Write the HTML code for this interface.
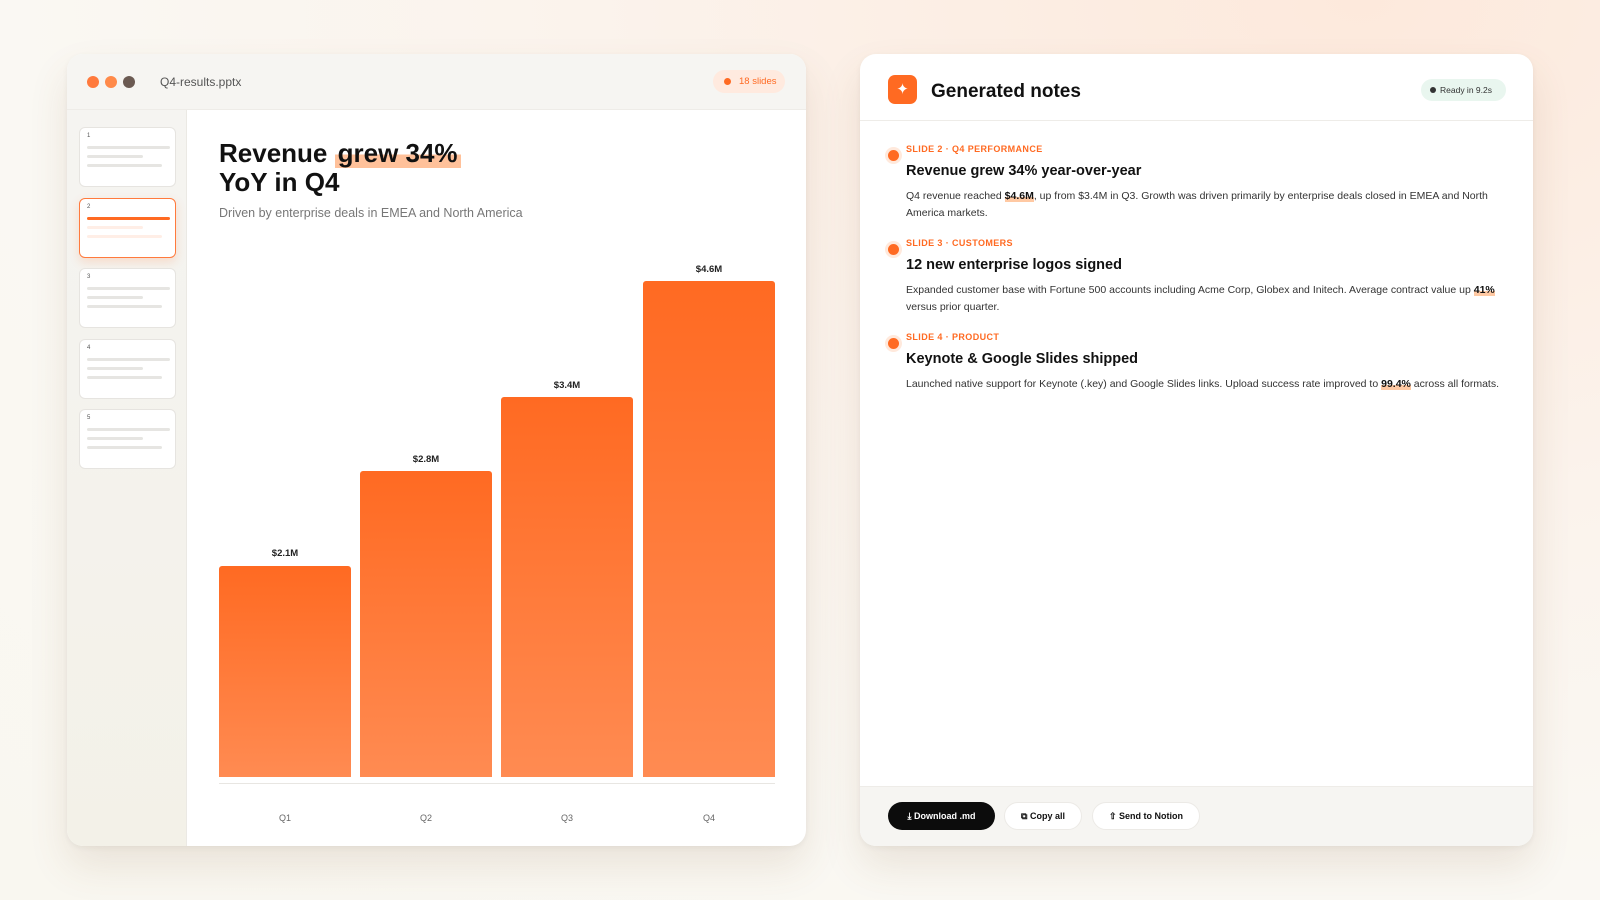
<!DOCTYPE html>
<html><head><meta charset="utf-8"><style>
*{margin:0;padding:0;box-sizing:border-box}
body{width:1600px;height:900px;overflow:hidden;font-family:"Liberation Sans",sans-serif;background:radial-gradient(ellipse at 85% 0%,#fde9dc 0%,#fbf3ec 40%,#faf8f3 70%,#f9f7f0 100%);position:relative;color:#111}
.win{position:absolute;left:67px;top:54px;width:739px;height:792px;background:#fff;border-radius:16px;box-shadow:0 20px 40px rgba(120,80,40,.12),0 2px 6px rgba(0,0,0,.05);overflow:hidden}
.hdr{position:absolute;left:0;top:0;right:0;height:56px;background:#f6f5f2;border-bottom:1px solid #eeece8}
.dot{position:absolute;top:22px;width:12px;height:12px;border-radius:50%}
.side{position:absolute;left:0;top:56px;width:120px;bottom:0;background:linear-gradient(#f5f4f1,#f3f1e8);border-right:1px solid #ebe9e4}
.th{position:absolute;left:12px;width:97px;height:60px;background:#fff;border:1px solid #e6e4e0;border-radius:6px}
.th span{position:absolute;left:7px;top:5px;font-size:6px;color:#555}
.ln{position:absolute;left:7px;height:3px;border-radius:2px;background:#e6e5e2}
.bar{position:absolute;width:132px;background:linear-gradient(#ff6a22,#ff8b52);border-radius:3px 3px 0 0}
.bl{position:absolute;width:132px;text-align:center;font-size:9.5px;font-weight:bold;color:#222}
.ql{position:absolute;width:132px;text-align:center;font-size:9px;color:#666;top:759px}
.panel{position:absolute;left:860px;top:54px;width:673px;height:792px;background:#fff;border-radius:16px;box-shadow:0 20px 40px rgba(120,80,40,.12),0 2px 6px rgba(0,0,0,.05);overflow:hidden}
.item{position:absolute;left:46px;width:600px}
.item .d{position:absolute;left:-18px;top:6px;width:11px;height:11px;border-radius:50%;background:#ff6a22;box-shadow:0 0 0 3px #ffe9dc}
.item .lab{font-size:9px;font-weight:bold;color:#ff6a22;letter-spacing:.4px}
.item .t{font-size:14.5px;font-weight:bold;margin-top:9px}
.item .b{font-size:10.5px;color:#333;line-height:16.5px;margin-top:9px}
.hl{font-weight:bold;color:#111;background:linear-gradient(transparent 60%,#ffc9a3 60%)}
.btn{position:absolute;top:748px;height:28px;border-radius:14px;font-size:9px;font-weight:bold;display:flex;align-items:center;justify-content:center;gap:5px}
</style></head><body>
<div class="win">
 <div class="hdr">
  <div class="dot" style="left:20px;background:#ff7a3d"></div>
  <div class="dot" style="left:38px;background:#ff8a4a"></div>
  <div class="dot" style="left:56px;background:#6b5a52"></div>
  <div style="position:absolute;left:93px;top:21px;font-size:12px;color:#555">Q4-results.pptx</div>
  <div style="position:absolute;left:646px;top:16px;width:72px;height:23px;border-radius:12px;background:#ffeadf;color:#ff6a22;font-size:9.5px;line-height:23px;padding-left:26px">18 slides<span style="position:absolute;left:11px;top:8px;width:7px;height:7px;border-radius:50%;background:#ff6a22"></span></div>
 </div>
 <div class="side">
  <div class="th" style="top:17px"><span>1</span><div class="ln" style="top:18px;width:83px"></div><div class="ln" style="top:27px;width:56px"></div><div class="ln" style="top:36px;width:75px"></div></div>
  <div class="th" style="top:88px;border:1.5px solid #ff7a3d;box-shadow:0 4px 10px rgba(255,106,34,.18)"><span>2</span><div class="ln" style="top:18px;width:83px;background:#ff6a22"></div><div class="ln" style="top:27px;width:56px;background:#ffeee6"></div><div class="ln" style="top:36px;width:75px;background:#ffeee6"></div></div>
  <div class="th" style="top:158px"><span>3</span><div class="ln" style="top:18px;width:83px"></div><div class="ln" style="top:27px;width:56px"></div><div class="ln" style="top:36px;width:75px"></div></div>
  <div class="th" style="top:229px"><span>4</span><div class="ln" style="top:18px;width:83px"></div><div class="ln" style="top:27px;width:56px"></div><div class="ln" style="top:36px;width:75px"></div></div>
  <div class="th" style="top:299px"><span>5</span><div class="ln" style="top:18px;width:83px"></div><div class="ln" style="top:27px;width:56px"></div><div class="ln" style="top:36px;width:75px"></div></div>
 </div>
 <div style="position:absolute;left:152px;top:85px;font-size:26px;font-weight:bold;line-height:29px;color:#111">Revenue <span style="background:linear-gradient(transparent 55%,#ffc19a 55%);padding:0 3px">grew 34%</span><br>YoY in Q4</div>
 <div style="position:absolute;left:152px;top:152px;font-size:12.5px;color:#777">Driven by enterprise deals in EMEA and North America</div>
 <div class="bl" style="left:152px;top:494px">$2.1M</div><div class="bar" style="left:152px;top:512px;height:211px"></div>
 <div class="bl" style="left:293px;top:400px">$2.8M</div><div class="bar" style="left:293px;top:417px;height:306px"></div>
 <div class="bl" style="left:434px;top:326px">$3.4M</div><div class="bar" style="left:434px;top:343px;height:380px"></div>
 <div class="bl" style="left:576px;top:210px">$4.6M</div><div class="bar" style="left:576px;top:227px;height:496px"></div>
 <div style="position:absolute;left:152px;top:729px;width:556px;height:1px;background:#e8e6e2"></div>
 <div class="ql" style="left:152px">Q1</div><div class="ql" style="left:293px">Q2</div><div class="ql" style="left:434px">Q3</div><div class="ql" style="left:576px">Q4</div>
</div>
<div class="panel">
 <div style="position:absolute;left:28px;top:21px;width:29px;height:29px;border-radius:7px;background:#ff6a22;color:#fff;font-size:15px;text-align:center;line-height:29px">✦</div>
 <div style="position:absolute;left:71px;top:27px;font-size:19px;font-weight:bold">Generated notes</div>
 <div style="position:absolute;left:561px;top:25px;width:85px;height:22px;border-radius:11px;background:#e9f6ef;font-size:8.5px;color:#333;line-height:22px;padding-left:19px">Ready in 9.2s<span style="position:absolute;left:9px;top:8px;width:6px;height:6px;border-radius:50%;background:#333"></span></div>
 <div style="position:absolute;left:0;right:0;top:66px;height:1px;background:#eeece8"></div>
 <div class="item" style="top:90px"><div class="d"></div><div class="lab">SLIDE 2 · Q4 PERFORMANCE</div><div class="t">Revenue grew 34% year-over-year</div><div class="b">Q4 revenue reached <span class="hl">$4.6M</span>, up from $3.4M in Q3. Growth was driven primarily by enterprise deals closed in EMEA and North America markets.</div></div>
 <div class="item" style="top:184px"><div class="d"></div><div class="lab">SLIDE 3 · CUSTOMERS</div><div class="t">12 new enterprise logos signed</div><div class="b">Expanded customer base with Fortune 500 accounts including Acme Corp, Globex and Initech. Average contract value up <span class="hl">41%</span> versus prior quarter.</div></div>
 <div class="item" style="top:278px;width:620px"><div class="d"></div><div class="lab">SLIDE 4 · PRODUCT</div><div class="t">Keynote &amp; Google Slides shipped</div><div class="b">Launched native support for Keynote (.key) and Google Slides links. Upload success rate improved to <span class="hl">99.4%</span> across all formats.</div></div>
 <div style="position:absolute;left:0;right:0;top:732px;bottom:0;background:#f6f5f2;border-top:1px solid #eeece8"></div>
 <div class="btn" style="left:28px;width:107px;background:#0c0c0c;color:#fff">⤓ Download .md</div>
 <div class="btn" style="left:144px;width:78px;background:#fff;border:1px solid #eceae6">⧉ Copy all</div>
 <div class="btn" style="left:232px;width:108px;background:#fff;border:1px solid #eceae6">⇧ Send to Notion</div>
</div>
</body></html>
